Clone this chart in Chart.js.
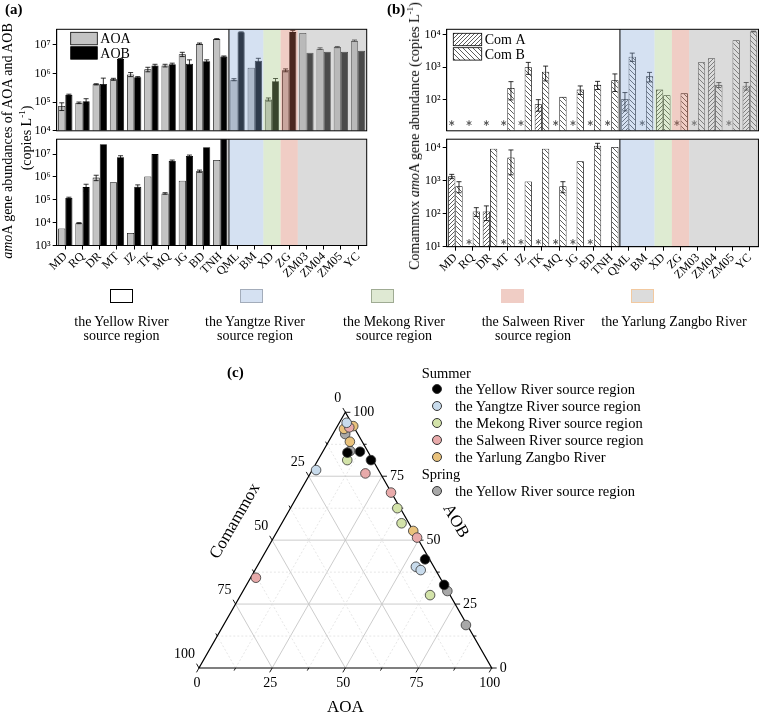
<!DOCTYPE html>
<html>
<head>
<meta charset="utf-8">
<title>AOA, AOB and comammox amoA abundance</title>
<script src="https://cdn.jsdelivr.net/npm/chart.js@4.4.1/dist/chart.umd.min.js"></script>
<style>
  body { margin: 0; background: #fff; }
  #fig { position: relative; width: 760px; height: 715px; overflow: hidden; font-family: 'Liberation Serif', 'Times New Roman', serif; color: #000; }
  #fig canvas { position: absolute; }
  .txt { position: absolute; white-space: nowrap; }
  .rot { position: absolute; white-space: nowrap; transform: translate(-50%, -50%) rotate(-90deg); }
  .dot { position: absolute; width: 10px; height: 10px; border-radius: 50%; border: 1px solid #333; box-sizing: border-box; }
  .box { position: absolute; width: 23px; height: 14px; box-sizing: border-box; }
  sup { font-size: 9px; vertical-align: super; line-height: 0; }
</style>
</head>
<body>
<div id="fig">
  <canvas id="a1"></canvas>
  <canvas id="a2"></canvas>
  <canvas id="b1"></canvas>
  <canvas id="b2"></canvas>
  <canvas id="c1"></canvas>
  <div class="txt" style="left:5px;top:1px;font-size:15px;font-weight:bold">(a)</div>
  <div class="txt" style="left:387px;top:1px;font-size:15px;font-weight:bold">(b)</div>
  <div class="txt" style="left:227px;top:364px;font-size:15px;font-weight:bold">(c)</div>
  <div class="rot" style="left:8px;top:141px;font-size:14px"><i>amo</i>A gene abundances of AOA and AOB</div>
  <div class="rot" style="left:27px;top:138px;font-size:14px">(copies L<sup>-1</sup>)</div>
  <div class="rot" style="left:415px;top:136px;font-size:14px">Comammox <i>amo</i>A gene abundance (copies L<sup>-1</sup>)</div>
  <div id="rowLegend"></div>
  <div id="ternLegend"></div>
</div>
<script>
// sites, in plotting order
var sites = ['MD', 'RQ', 'DR', 'MT', 'JZ', 'TK', 'MQ', 'JG', 'BD', 'TNH', 'QML', 'BM', 'XD', 'ZG', 'ZM03', 'ZM04', 'ZM05', 'YC'];

// (a) summer, copies per litre
var aoaSummer    = [7.3e4, 9.5e4, 4.2e5, 6.3e5, 9.3e5, 1.4e6, 1.9e6, 4.7e6, 1.1e7, 1.6e7, 6.1e5, 1.6e6, 1.25e5, 1.3e6, 2.6e7, 7.4e6, 8.4e6, 1.4e7];
var aoaSummerErr = [2.2e4, 6e3, 2e4, 5e4, 1.5e5, 2.5e5, 2e5, 8e5, 6e5, 5e5, 5e4, 0, 1.5e4, 1.5e5, 0, 5e5, 4e5, 8e5];
var aobSummer    = [1.8e5, 1.07e5, 4.3e5, 3.2e6, 7.4e5, 1.9e6, 2.1e6, 2.2e6, 2.7e6, 3.9e6, 2.75e7, 2.8e6, 5.4e5, 2.8e7, 5.3e6, 5.7e6, 5.7e6, 6.2e6];
var aobSummerErr = [1e4, 2.5e4, 2.6e5, 1.5e5, 4e4, 2e5, 2e5, 8e5, 3e5, 2e5, 1e6, 6e5, 1.3e5, 4e6, 0, 0, 0, 0];
// (a) spring, Yellow River sites only
var aoaSpring    = [5.6e3, 9.5e3, 9.4e5, 5.9e5, 3.5e3, 1.05e6, 1.9e5, 6.8e5, 1.8e6, 5.5e6];
var aoaSpringErr = [0, 500, 2.5e5, 0, 0, 0, 1.5e4, 0, 2e5, 0];
var aobSpring    = [1.2e5, 3.6e5, 2.7e7, 7.3e6, 3.7e5, 1e7, 5e6, 8.3e6, 2e7, 3e8];
var aobSpringErr = [1e4, 1.2e5, 0, 1.2e6, 8e4, 0, 5e5, 8e5, 0, 0];

// (b) comammox, summer
var comASummer    = [null, null, null, null, null, 72, null, null, null, null, 105, null, 204, null, null, 1880, null, 267];
var comASummerErr = [0, 0, 0, 0, 0, 28, 0, 0, 0, 0, 60, 0, 0, 0, 0, 0, 0, 70];
var comBSummer    = [null, null, null, 228, 1000, 727, 122, 204, 285, 398, 2100, 520, 137, 156, 1410, 285, 6700, 12500];
var comBSummerErr = [0, 0, 0, 130, 400, 350, 0, 60, 80, 220, 600, 170, 0, 0, 0, 50, 0, 300];
var comANdSummer  = ['MD', 'RQ', 'DR', 'MT', 'JZ', 'MQ', 'JG', 'BD', 'TNH', 'BM', 'ZG', 'ZM03', 'ZM05'];
// (b) comammox, spring
var comASpring    = [1350, null, 117, null, null, null, null, null, null, null];
var comASpringErr = [200, 0, 55, 0, 0, 0, 0, 0, 0, 0];
var comBSpring    = [680, 117, 9300, 5000, 950, 9300, 680, 3900, 11500, 10500];
var comBSpringErr = [250, 35, 0, 3500, 0, 0, 250, 0, 2000, 0];
var comANdSpring  = ['RQ', 'MT', 'JZ', 'TK', 'MQ', 'JG', 'BD'];

// y ticks
var ticksA1 = [1e4, 1e5, 1e6, 1e7];
var ticksA2 = [1e3, 1e4, 1e5, 1e6, 1e7];
var ticksB1 = [1e2, 1e3, 1e4];
var ticksB2 = [1e1, 1e2, 1e3, 1e4];

// source regions
var regionNames = [['the Yellow River', 'source region'], ['the Yangtze River', 'source region'], ['the Mekong River', 'source region'], ['the Salween River', 'source region'], ['the Yarlung Zangbo River']];
var regionFirst = [0, 10, 12, 13, 14];
var regionLast  = [9, 11, 12, 13, 17];
var regionTints = [null, 'rgba(135,169,218,0.35)', 'rgba(161,198,126,0.35)', 'rgba(212,112,89,0.35)', 'rgba(172,172,172,0.43)'];
var regionSwatch = ['#ffffff', '#d5e1f2', '#dfe9d3', '#f0cdc5', '#dcdcdc'];
var regionEdge = ['#000000', '#a3acba', '#9fab93', '#f0cdc5', '#f2c9a0'];

// (c) ternary: [AOA, AOB, Comammox] in %
var ternYellow  = [[8.6, 84.2, 7.2], [12.7, 84.6, 2.7], [18.1, 81.3, 0.6], [56, 42.5, 1.5], [67.5, 32.5, 0]];
var ternYangtze = [[2.5, 95.9, 1.6], [1.3, 77.4, 21.3], [54.3, 39.6, 6.1], [56.6, 38.3, 5.1]];
var ternMekong  = [[10, 81.3, 8.7], [36.5, 62.5, 1], [40.9, 56.6, 2.5], [64.7, 28.5, 6.8]];
var ternSalween = [[4.3, 94.1, 1.6], [18.8, 76.1, 5.1], [31.3, 68.6, 0.1], [49, 51, 0], [1.8, 35.3, 62.9]];
var ternYarlung = [[5.4, 94.6, 0], [2.8, 93.5, 3.7], [7.3, 88.5, 4.2], [46.4, 53.6, 0]];
var ternSpring  = [[4.2, 91.5, 4.3], [9.2, 84.9, 5.9], [69.8, 30.1, 0.1], [82.8, 16.8, 0.4]];
var ternGroups  = [ternYellow, ternYangtze, ternMekong, ternSalween, ternYarlung, ternSpring];
var ternNames   = ['the Yellow River source region', 'the Yangtze River source region', 'the Mekong River source region', 'the Salween River source region', 'the Yarlung Zangbo River', 'the Yellow River source region'];
var ternFill    = ['#000000', '#c8dbec', '#d3e3a9', '#e8aaaa', '#e9c27c', '#a8a8a8'];
var ternLevels  = [12.5, 25, 37.5, 50, 62.5, 75, 87.5];
var ternLabels  = [0, 25, 50, 75, 100];

var SERIF = "'Liberation Serif', 'Times New Roman', serif";
Chart.defaults.font.family = SERIF;
Chart.defaults.color = '#000';

var SUP = { '0': '\u2070', '1': '\u00b9', '2': '\u00b2', '3': '\u00b3', '4': '\u2074', '5': '\u2075', '6': '\u2076', '7': '\u2077', '8': '\u2078', '9': '\u2079' };
function powLabel(v) {
    var e = String(Math.round(Math.log10(v)));
    return '10' + e.split('').map(function(d) { return SUP[d]; }).join('');
}

function place(id, box) {
    var cv = document.getElementById(id);
    cv.width = box[2];
    cv.height = box[3];
    cv.style.left = box[0] + 'px';
    cv.style.top = box[1] + 'px';
    return cv;
}

function hatch(cv, dir, gap) {
    var t = document.createElement('canvas');
    t.width = gap; t.height = gap;
    var x = t.getContext('2d');
    x.fillStyle = '#fff';
    x.fillRect(0, 0, gap, gap);
    x.strokeStyle = '#333';
    x.lineWidth = 0.8;
    x.beginPath();
    if (dir > 0) {
        x.moveTo(-1, gap + 1); x.lineTo(gap + 1, -1);
        x.moveTo(-2, 2); x.lineTo(2, -2);
        x.moveTo(gap - 2, gap + 2); x.lineTo(gap + 2, gap - 2);
    } else {
        x.moveTo(-1, -1); x.lineTo(gap + 1, gap + 1);
        x.moveTo(-2, gap - 2); x.lineTo(2, gap + 2);
        x.moveTo(gap - 2, -2); x.lineTo(gap + 2, 2);
    }
    x.stroke();
    return cv.getContext('2d').createPattern(t, 'repeat');
}

function drawStar(ctx, x, y) {
    ctx.save();
    ctx.strokeStyle = '#555';
    ctx.lineWidth = 1;
    ctx.beginPath();
    for (var k = 0; k < 3; k++) {
        var ang = Math.PI / 2 + k * Math.PI / 3;
        var dx = Math.cos(ang) * 2.8, dy = Math.sin(ang) * 2.8;
        ctx.moveTo(x - dx, y - dy);
        ctx.lineTo(x + dx, y + dy);
    }
    ctx.stroke();
    ctx.restore();
}

// error bars, not-detected marks, region shading, frame and legend
function makeDecor(cfg) {
    return {
        id: 'decor',
        afterDatasetsDraw: function(chart) {
            var ctx = chart.ctx, a = chart.chartArea, xs = chart.scales.x, ys = chart.scales.y;
            var step = xs.getPixelForValue(1) - xs.getPixelForValue(0);
            ctx.save();
            ctx.beginPath();
            ctx.rect(a.left, a.top, a.right - a.left, a.bottom - a.top);
            ctx.clip();

            chart.data.datasets.forEach(function(ds, di) {
                if (!ds.errors) return;
                var meta = chart.getDatasetMeta(di);
                ds.data.forEach(function(v, i) {
                    var e = ds.errors[i];
                    if (v == null || !e) return;
                    var x = meta.data[i].x;
                    var y1 = ys.getPixelForValue(v + e);
                    var y0 = ys.getPixelForValue(Math.max(v - e, ys.min));
                    ctx.strokeStyle = '#000';
                    ctx.lineWidth = 0.8;
                    ctx.beginPath();
                    ctx.moveTo(x, y0); ctx.lineTo(x, y1);
                    ctx.moveTo(x - 2.5, y1); ctx.lineTo(x + 2.5, y1);
                    if (v - e > ys.min) { ctx.moveTo(x - 2.5, y0); ctx.lineTo(x + 2.5, y0); }
                    ctx.stroke();
                });
            });

            (cfg.stars || []).forEach(function(site) {
                var i = sites.indexOf(site);
                drawStar(ctx, xs.getPixelForValue(i) - step * cfg.catPct / 4, ys.getPixelForValue(cfg.starValue));
            });

            for (var r = 1; r < regionFirst.length; r++) {
                var x0 = xs.getPixelForValue(regionFirst[r]) - step / 2;
                var x1 = xs.getPixelForValue(regionLast[r]) + step / 2;
                ctx.fillStyle = regionTints[r];
                ctx.fillRect(x0, a.top, x1 - x0, a.bottom - a.top);
            }
            ctx.restore();

            ctx.save();
            ctx.strokeStyle = '#000';
            ctx.lineWidth = 1;
            var xb = xs.getPixelForValue(regionLast[0]) + step / 2;
            ctx.beginPath();
            ctx.moveTo(xb, a.top); ctx.lineTo(xb, a.bottom);
            ctx.stroke();
            ctx.strokeRect(a.left, a.top, a.right - a.left, a.bottom - a.top);

            if (cfg.legend) {
                var L = cfg.legend;
                L.items.forEach(function(it, k) {
                    var lx = a.left + L.dx, ly = a.top + L.dy + k * L.gap;
                    ctx.fillStyle = it.fill;
                    ctx.fillRect(lx, ly, L.w, L.h);
                    ctx.lineWidth = 0.8;
                    ctx.strokeStyle = '#000';
                    ctx.strokeRect(lx, ly, L.w, L.h);
                    ctx.fillStyle = '#000';
                    ctx.font = '14px ' + SERIF;
                    ctx.textBaseline = 'middle';
                    ctx.textAlign = 'left';
                    ctx.fillText(it.label, lx + L.w + 3, ly + L.h / 2 + 1);
                });
            }
            ctx.restore();
        }
    };
}

function logBars(id, box, area, yMin, yMax, yTicks, datasets, showX, decor) {
    var cv = place(id, box);
    if (typeof datasets === 'function') datasets = datasets(cv);
    return new Chart(cv, {
        type: 'bar',
        data: { labels: sites, datasets: datasets },
        options: {
            responsive: false,
            animation: false,
            layout: {
                padding: {
                    left: 0,
                    top: area[1] - box[1],
                    right: box[0] + box[2] - area[2],
                    bottom: showX ? 0 : box[1] + box[3] - area[3]
                }
            },
            plugins: { legend: { display: false }, tooltip: { enabled: false } },
            scales: {
                x: {
                    display: showX,
                    grid: { drawOnChartArea: false, offset: false, color: '#000', tickLength: 4 },
                    border: { color: '#000' },
                    ticks: { autoSkip: false, maxRotation: 45, minRotation: 45, padding: 0, color: '#000', font: { family: SERIF, size: 12 } },
                    afterFit: function(s) { s.height = box[1] + box[3] - area[3]; }
                },
                y: {
                    type: 'logarithmic',
                    min: yMin,
                    max: yMax,
                    afterBuildTicks: function(s) { s.ticks = yTicks.map(function(v) { return { value: v }; }); },
                    afterFit: function(s) { s.width = area[0] - box[0]; },
                    grid: { drawOnChartArea: false, color: '#000', tickLength: 4 },
                    border: { color: '#000' },
                    ticks: { padding: 2, color: '#000', font: { family: SERIF, size: 12 }, callback: function(v) { return powLabel(v); } }
                }
            }
        },
        plugins: [makeDecor(decor)]
    });
}

function barSet(label, data, errors, fill, catPct) {
    return {
        label: label, data: data, errors: errors,
        backgroundColor: fill, borderColor: '#000', borderWidth: 0.8,
        categoryPercentage: catPct, barPercentage: 1
    };
}

// (a)
logBars('a1', [0, 0, 380, 140], [56.7, 29.3, 366.7, 137], 1e4, 3.5e7, ticksA1, [
    barSet('AOA', aoaSummer, aoaSummerErr, '#c3c3c3', 0.83),
    barSet('AOB', aobSummer, aobSummerErr, '#000', 0.83)
], false, {
    catPct: 0.83,
    legend: { dx: 14, dy: 3, w: 26.6, h: 12.5, gap: 14.4, items: [{ label: 'AOA', fill: '#c3c3c3' }, { label: 'AOB', fill: '#000' }] }
});
logBars('a2', [0, 130, 380, 150], [56.7, 137, 366.7, 245.5], 1e3, 4.5e7, ticksA2, [
    barSet('AOA', aoaSpring, aoaSpringErr, '#c3c3c3', 0.83),
    barSet('AOB', aobSpring, aobSpringErr, '#000', 0.83)
], true, { catPct: 0.83 });

// (b)
var patB1 = null;
logBars('b1', [380, 0, 380, 140], [446.7, 29.3, 758.5, 137], 11, 14600, ticksB1, function(cv) {
    patB1 = [hatch(cv, 1, 4), hatch(cv, -1, 5)];
    return [barSet('Com A', comASummer, comASummerErr, patB1[0], 0.84), barSet('Com B', comBSummer, comBSummerErr, patB1[1], 0.84)];
}, false, {
    catPct: 0.84, stars: comANdSummer, starValue: 19,
    legend: { dx: 6.6, dy: 4, w: 28.4, h: 12.4, gap: 14.4, items: [{ label: 'Com A', get fill() { return patB1[0]; } }, { label: 'Com B', get fill() { return patB1[1]; } }] }
});
logBars('b2', [380, 130, 380, 150], [446.7, 137, 758.5, 246.7], 10, 1.8e4, ticksB2, function(cv) {
    return [barSet('Com A', comASpring, comASpringErr, hatch(cv, 1, 4), 0.84), barSet('Com B', comBSpring, comBSpringErr, hatch(cv, -1, 5), 0.84)];
}, true, { catPct: 0.84, stars: comANdSpring, starValue: 14 });

// region legend row
var row = document.getElementById('rowLegend');
var labelCenters = [121.5, 255, 394, 533, 674];
regionNames.forEach(function(lines, i) {
    var b = document.createElement('div');
    b.className = 'box';
    b.style.left = (110 + i * 130.3) + 'px';
    b.style.top = '289px';
    b.style.background = regionSwatch[i];
    b.style.border = (i === 0 ? 1.5 : 1) + 'px solid ' + regionEdge[i];
    row.appendChild(b);
    var t = document.createElement('div');
    t.className = 'txt';
    t.style.cssText += 'font-size:14px;line-height:14px;text-align:center;width:170px;top:314.7px;left:' + (labelCenters[i] - 85) + 'px';
    t.innerHTML = lines.join('<br>');
    row.appendChild(t);
});

// (c) ternary
var ternFrame = {
    id: 'ternFrame',
    beforeDatasetsDraw: function(chart) {
        var ctx = chart.ctx, xs = chart.scales.x, ys = chart.scales.y;
        function P(a, b) { return [xs.getPixelForValue(a + b / 2), ys.getPixelForValue(b)]; }
        function seg(p, q) { ctx.beginPath(); ctx.moveTo(p[0], p[1]); ctx.lineTo(q[0], q[1]); ctx.stroke(); }
        ctx.save();
        ternLevels.forEach(function(lv) {
            var g = lv / 100, major = lv % 25 === 0;
            ctx.strokeStyle = major ? '#c6c6c6' : '#e0e0e0';
            ctx.lineWidth = major ? 0.9 : 0.8;
            ctx.setLineDash(major ? [] : [2, 2]);
            seg(P(0, g), P(1 - g, g));
            seg(P(g, 0), P(g, 1 - g));
            seg(P(1 - g, 0), P(0, 1 - g));
        });
        ctx.setLineDash([]);
        ctx.strokeStyle = '#000';
        ctx.lineWidth = 1.2;
        ctx.beginPath();
        var v0 = P(0, 0), v1 = P(1, 0), v2 = P(0, 1);
        ctx.moveTo(v0[0], v0[1]); ctx.lineTo(v1[0], v1[1]); ctx.lineTo(v2[0], v2[1]); ctx.closePath();
        ctx.stroke();

        ctx.lineWidth = 0.9;
        ctx.font = '14px ' + SERIF;
        ctx.fillStyle = '#000';
        ctx.textBaseline = 'middle';
        for (var t = 0; t <= 100; t += 12.5) {
            var f = t / 100, len = t % 25 === 0 ? 5 : 3, lab = ternLabels.indexOf(t) >= 0;
            var pb = P(f, 0);
            seg(pb, [pb[0] - 0.5 * len, pb[1] + 0.866 * len]);
            var pr = P(1 - f, f);
            seg(pr, [pr[0] + len, pr[1]]);
            var pl = P(0, 1 - f);
            seg(pl, [pl[0] - 0.5 * len, pl[1] - 0.866 * len]);
            if (lab) {
                ctx.textAlign = 'center';
                ctx.fillText(String(t), pb[0] - 2, pb[1] + 15);
                ctx.textAlign = 'left';
                ctx.fillText(String(t), pr[0] + 8, pr[1]);
                ctx.textAlign = 'right';
                ctx.fillText(String(t), pl[0] - 4, pl[1] - 14);
            }
        }
        ctx.font = '17px ' + SERIF;
        ctx.textAlign = 'center';
        var pm = P(0.5, 0);
        ctx.fillText('AOA', pm[0], pm[1] + 40);
        var pr2 = P(0.5, 0.5);
        ctx.save();
        ctx.translate(pr2[0] + 37, pr2[1] - 19);
        ctx.rotate(Math.PI / 3);
        ctx.fillText('AOB', 0, 0);
        ctx.restore();
        var pl2 = P(0, 0.5);
        ctx.save();
        ctx.translate(pl2[0] - 37, pl2[1] - 19);
        ctx.rotate(-Math.PI / 3);
        ctx.fillText('Comammox', 0, 0);
        ctx.restore();
        ctx.restore();
    }
};

var ternBox = [150, 380, 400, 335], ternArea = [199, 412.3, 491.7, 668];
var ternDatasets = ternGroups.map(function(g, i) {
    return {
        label: ternNames[i],
        data: g.map(function(p) {
            var s = p[0] + p[1] + p[2];
            return { x: (p[0] + p[1] / 2) / s, y: p[1] / s };
        }),
        backgroundColor: ternFill[i],
        borderColor: '#333',
        borderWidth: 0.8,
        pointRadius: 4.8,
        clip: false
    };
});
new Chart(place('c1', ternBox), {
    type: 'scatter',
    data: { datasets: ternDatasets },
    options: {
        responsive: false,
        animation: false,
        layout: {
            padding: {
                left: ternArea[0] - ternBox[0],
                top: ternArea[1] - ternBox[1],
                right: ternBox[0] + ternBox[2] - ternArea[2],
                bottom: ternBox[1] + ternBox[3] - ternArea[3]
            }
        },
        plugins: { legend: { display: false }, tooltip: { enabled: false } },
        scales: {
            x: { type: 'linear', min: 0, max: 1, display: false },
            y: { type: 'linear', min: 0, max: 1, display: false }
        }
    },
    plugins: [ternFrame]
});

// ternary legend
var tl = document.getElementById('ternLegend');
function addText(parent, html, left, cy, size) {
    var d = document.createElement('div');
    d.className = 'txt';
    d.style.cssText += 'font-size:' + size + 'px;line-height:' + Math.round(size * 1.2) + 'px;left:' + left + 'px;top:' + (cy - size * 0.6) + 'px';
    d.innerHTML = html;
    parent.appendChild(d);
}
addText(tl, 'Summer', 421.7, 373.3, 14.5);
ternNames.forEach(function(name, i) {
    var cy = i < 5 ? 389.3 + i * 17 : 491.3;
    var dot = document.createElement('div');
    dot.className = 'dot';
    dot.style.left = (437.3 - 5) + 'px';
    dot.style.top = (cy - 5) + 'px';
    dot.style.background = ternFill[i];
    tl.appendChild(dot);
    addText(tl, name, 455, cy, 14.5);
});
addText(tl, 'Spring', 421.7, 474.3, 14.5);
</script>
</body>
</html>
